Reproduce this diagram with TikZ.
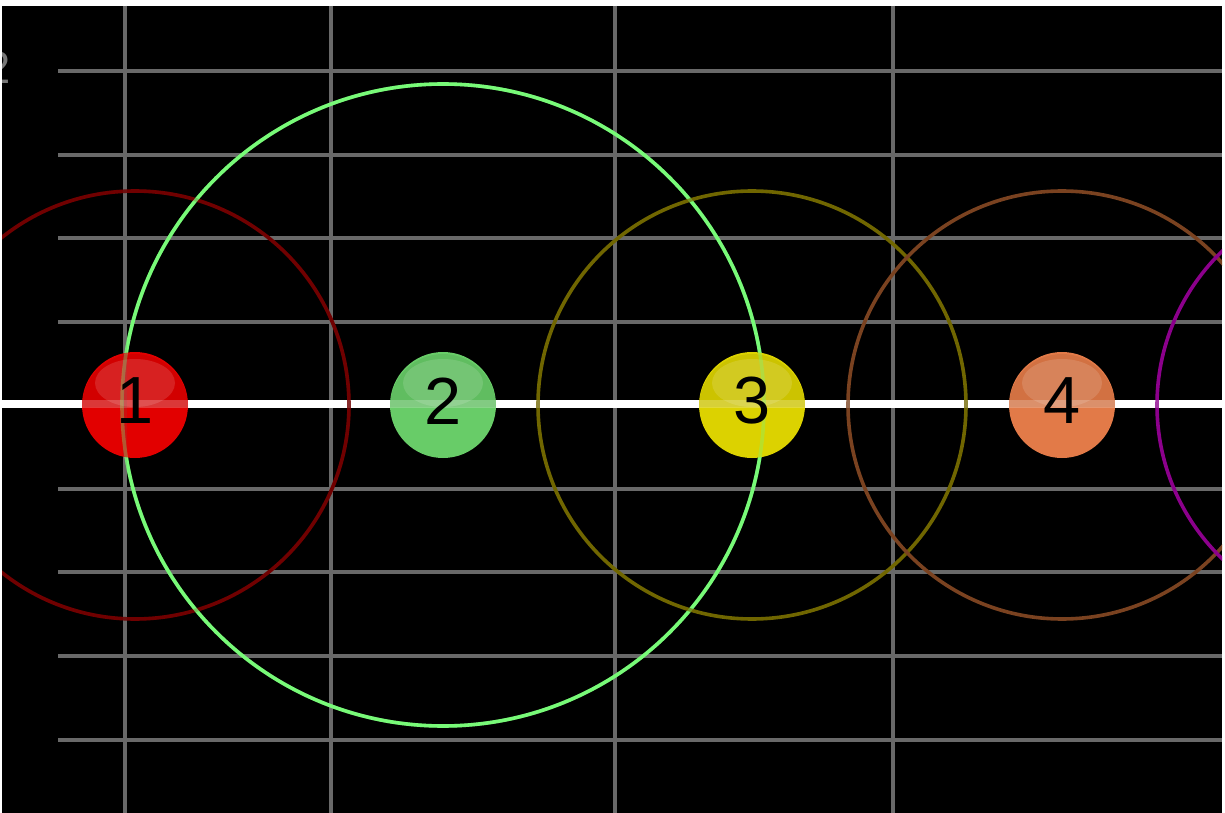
\documentclass[tikz,border=0pt]{standalone}
\usepackage{fontspec}
\setmainfont{Liberation Sans}
\definecolor{gridc}{RGB}{105,105,105}
\definecolor{labc}{RGB}{120,120,120}
\definecolor{c1ring}{RGB}{112,0,0}
\definecolor{c2ring}{RGB}{120,250,120}
\definecolor{c3ring}{RGB}{112,102,0}
\definecolor{c4ring}{RGB}{122,66,32}
\definecolor{c5ring}{RGB}{140,0,140}
\definecolor{b1c}{RGB}{226,0,0}
\definecolor{b2c}{RGB}{104,204,104}
\definecolor{b3c}{RGB}{220,210,0}
\definecolor{b4c}{RGB}{226,122,72}
\tikzset{
  gridline/.style={draw=gridc, line width=2.4pt},
  ring/.style={line width=2.7pt},
  ball/.style={circle, minimum size=106*0.75pt, inner sep=0pt},
  digit/.style={font=\fontsize{50}{50}\selectfont, text=black, inner sep=0pt},
}
\begin{document}
\begin{tikzpicture}[x=0.75pt, y=-0.75pt]
\useasboundingbox (0,0) rectangle (1225,813);
\fill[white] (0,0) rectangle (1225,813);
\fill[black] (2,6) rectangle (1222,813);
\begin{scope}
\clip (2,6) rectangle (1222,813);
% axis label (cut off)
\node[text=labc, font=\fontsize{34}{34}\selectfont, anchor=east, inner sep=0pt] (lab) at (11,68) {2};
% horizontal grid lines
\foreach \yy in {71,155,238,322,489,572,656,740}
  \draw[gridline] (58,\yy) -- (1222,\yy);
% vertical grid lines
\foreach \xx in {125,331,615,893}
  \draw[gridline] (\xx,6) -- (\xx,813);
% main white line
\coordinate (wl) at (0,404);
\coordinate (wr) at (1225,404);
\draw[white, line width=5.4pt] (wl) -- (wr);
% ball centres
\coordinate (p1) at (135,405);
\coordinate (p2) at (443,405);
\coordinate (p3) at (752,405);
\coordinate (p4) at (1062,405);
\coordinate (p5) at (1371,405);
% rings
\draw[ring, c1ring] (p1) circle[radius=214];
\draw[ring, c2ring] (p2) circle[radius=321];
\draw[ring, c3ring] (p3) circle[radius=214];
\draw[ring, c4ring] (p4) circle[radius=214];
\draw[ring, c5ring] (p5) circle[radius=214];
% balls
\foreach \i/\c in {1/b1c,2/b2c,3/b3c,4/b4c}{
  \node[ball, fill=\c] (b\i) at (p\i) {};
  \fill[black, opacity=0.07] (p\i) ++(-53,2) arc[start angle=180, end angle=360, radius=53] -- cycle;
  \fill[white, opacity=0.13] ([yshift=0.75pt*22]p\i) ellipse[x radius=40, y radius=24];
}
% lines showing through the balls
\draw[white, line width=5.4pt, opacity=0.22] (wl) -- (wr);
\draw[ring, c2ring, opacity=0.35] (p2) circle[radius=321];
\draw[ring, c1ring, opacity=0.2] (p1) circle[radius=214];
\draw[gridline, opacity=0.15] (125,6) -- (125,813);
% digits
\foreach \i in {1,2,3,4}
  \node[digit] (t\i) at ([yshift=0.75pt*4]p\i) {\i};
\end{scope}
\end{tikzpicture}
\end{document}
